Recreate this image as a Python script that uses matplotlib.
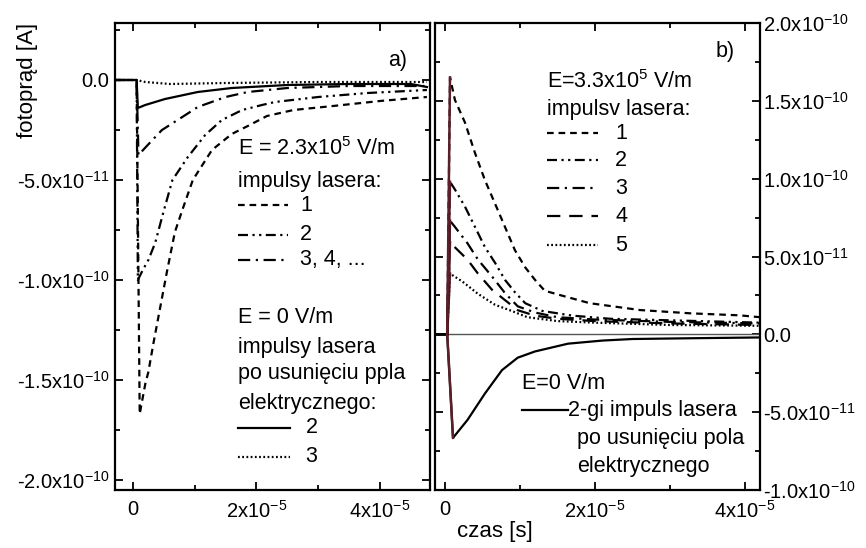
import matplotlib
matplotlib.use("Agg")
import matplotlib.pyplot as plt
from matplotlib.ticker import FixedLocator, MultipleLocator

plt.rcParams["font.family"] = ["Liberation Sans", "DejaVu Sans"]
plt.rcParams["mathtext.default"] = "regular"

# ---- panel a) : t in us, I in 1e-11 A
a1_t = [-3, 0.6, 1.1, 2.0, 2.5, 3.3, 4.4, 5.5, 6.8, 8.0, 9.7, 12.8, 16.0, 18.6, 21.7, 26, 32.4, 40, 47.6]
a1_i = [0, 0, -16.7, -15.2, -14.6, -13.2, -11.4, -9.6, -7.6, -6.5, -5.0, -3.5, -2.7, -2.3, -1.8, -1.5, -1.3, -1.05, -0.85]

a2_t = [-3, 0.6, 0.8, 1.6, 2.5, 3.6, 4.9, 6.4, 8.9, 11.7, 14.4, 17.7, 20.9, 23, 30, 38, 47.6]
a2_i = [0, 0, -10.0, -9.5, -9.0, -8.15, -6.65, -5.0, -3.85, -2.75, -2.0, -1.5, -1.25, -1.1, -0.85, -0.65, -0.5]

a3_t = [-3, 0.6, 0.9, 2.4, 4.7, 8, 10.5, 15, 18.6, 25, 35, 47.6]
a3_i = [0, 0, -3.75, -3.25, -2.5, -1.85, -1.35, -0.85, -0.6, -0.4, -0.3, -0.3]

a0s_t = [-3, 0.6, 0.8, 2, 5.2, 10.5, 16, 25, 35, 45, 47.6]
a0s_i = [0, 0, -1.4, -1.25, -0.95, -0.6, -0.4, -0.25, -0.2, -0.2, -0.35]

a0d_t = [-3, 0.6, 2, 6, 15, 30, 47.6]
a0d_i = [0, 0, -0.1, -0.2, -0.15, -0.1, -0.1]

# ---- panel b)
b1_t = [-1.4, 0.3, 0.67, 1.33, 2.67, 4, 5.33, 6.67, 8, 9.33, 10.7, 12, 13.3, 15.5, 19.3, 26, 32.7, 39.3, 42]
b1_i = [0, 0, 16.5, 15.05, 13.6, 11.65, 9.9, 8.4, 6.9, 5.4, 4.3, 3.5, 2.8, 2.5, 2.0, 1.56, 1.35, 1.22, 1.1]

b2_t = [-1.4, 0.3, 0.67, 1.33, 2.67, 4, 5.33, 6.67, 8, 9.33, 10.7, 13, 17, 22, 30, 42]
b2_i = [0, 0, 9.8, 9.3, 8.2, 6.9, 5.6, 4.6, 3.5, 2.7, 2.0, 1.5, 1.2, 1.0, 0.9, 0.75]

b3_t = [-1.4, 0.3, 0.67, 1.33, 3, 4.4, 6.3, 8, 9.7, 12, 15, 20, 30, 42]
b3_i = [0, 0, 7.3, 6.9, 5.85, 4.8, 3.7, 2.65, 1.8, 1.4, 1.1, 0.95, 0.8, 0.7]

b4_t = [-1.4, 0.3, 0.67, 3, 4.4, 6.3, 8, 9.7, 12, 15, 20, 30, 42]
b4_i = [0, 0, 5.9, 4.8, 3.9, 2.85, 2.2, 1.55, 1.2, 1.0, 0.85, 0.7, 0.6]

b5_t = [-1.4, 0.3, 0.67, 2.3, 4.4, 6.67, 8.9, 11, 15, 20, 30, 42]
b5_i = [0, 0, 3.9, 3.4, 2.6, 1.9, 1.5, 1.1, 0.85, 0.75, 0.6, 0.55]

b0_t = [-1.4, 0.3, 1.07, 3, 5.33, 7.6, 9.7, 12, 16.4, 21, 25, 33, 42]
b0_i = [0, 0, -6.65, -5.5, -3.8, -2.3, -1.5, -1.1, -0.6, -0.4, -0.3, -0.25, -0.2]

xticks = [0, 2e-5, 4e-5]
xticklabels = ["0", "2x10$^{-5}$", "4x10$^{-5}$"]
a_yticks = [0, -5e-11, -1e-10, -1.5e-10, -2e-10]
a_yticklabels = ["0.0", "-5.0x10$^{-11}$", "-1.0x10$^{-10}$", "-1.5x10$^{-10}$", "-2.0x10$^{-10}$"]
b_yticks = [2e-10, 1.5e-10, 1e-10, 5e-11, 0, -5e-11, -1e-10]
b_yticklabels = ["2.0x10$^{-10}$", "1.5x10$^{-10}$", "1.0x10$^{-10}$", "5.0x10$^{-11}$",
                 "0.0", "-5.0x10$^{-11}$", "-1.0x10$^{-10}$"]

DASH = (0, (3.0, 2.2))
DDD = (0, (4.5, 2.0, 1.0, 2.0, 1.0, 2.0))
DASHDOT = (0, (5.5, 2.5, 1.0, 2.5))
LONG = (0, (6.0, 4.0))
DOT = (0, (0.8, 1.1))
LW = 1.6
FS = 15.5
TFS = 14.5


def us(t):
    return [v * 1e-6 for v in t]


def amp(i):
    return [v * 1e-11 for v in i]


def style_axes(ax, right=False):
    ax.tick_params(which="both", direction="in", top=True, right=True, left=True, bottom=True,
                   labelsize=TFS, width=1.3)
    ax.tick_params(which="major", length=6, pad=7)
    ax.tick_params(which="minor", length=3.5)
    if right:
        ax.tick_params(axis="y", labelleft=False, labelright=True, pad=2)
    else:
        ax.tick_params(axis="y", pad=4)
    for s in ax.spines.values():
        s.set_linewidth(1.6)
    ax.xaxis.set_major_locator(FixedLocator(xticks))
    ax.set_xticklabels(xticklabels)
    ax.xaxis.set_minor_locator(MultipleLocator(1e-5))
    ax.yaxis.set_minor_locator(MultipleLocator(2.5e-11))


fig = plt.figure(figsize=(8.66, 5.48), dpi=100)
axa = fig.add_axes([115 / 866, 58 / 548, 315 / 866, 467 / 548])
axb = fig.add_axes([435 / 866, 58 / 548, 325 / 866, 467 / 548])

# panel a)
axa.plot(us(a0d_t), amp(a0d_i), color="k", lw=LW, ls=DOT)
axa.plot(us(a0s_t), amp(a0s_i), color="k", lw=LW, ls="-")
axa.plot(us(a3_t), amp(a3_i), color="k", lw=LW, ls=DASHDOT)
axa.plot(us(a2_t), amp(a2_i), color="k", lw=LW, ls=DDD)
axa.plot(us(a1_t), amp(a1_i), color="k", lw=LW, ls=DASH)
axa.set_xlim(-2.9e-6, 4.81e-5)
axa.set_ylim(-2.05e-10, 2.85e-11)
style_axes(axa)
axa.yaxis.set_major_locator(FixedLocator(a_yticks))
axa.set_yticklabels(a_yticklabels)
axa.text(0.927, 0.92, "a)", transform=axa.transAxes, ha="right", va="center", fontsize=FS)

tr = axa.transAxes
axa.text(0.39, 0.732, "E = 2.3x10$^5$ V/m", transform=tr, va="center", fontsize=FS)
axa.text(0.39, 0.66, "impulsy lasera:", transform=tr, va="center", fontsize=FS)
for y, ls, lab in [(0.61, DASH, "1"), (0.547, DDD, "2"), (0.493, DASHDOT, "3, 4, ...")]:
    axa.plot([0.39, 0.55], [y, y], transform=tr, color="k", lw=LW, ls=ls)
    axa.text(0.587, y, lab, transform=tr, va="center", fontsize=FS)
axa.text(0.39, 0.37, "E = 0 V/m", transform=tr, va="center", fontsize=FS)
axa.text(0.39, 0.306, "impulsy lasera", transform=tr, va="center", fontsize=FS)
axa.text(0.39, 0.25, "po usunięciu ppla", transform=tr, va="center", fontsize=FS)
axa.text(0.39, 0.186, "elektrycznego:", transform=tr, va="center", fontsize=FS)
for y, ls, lab in [(0.133, "-", "2"), (0.071, DOT, "3")]:
    axa.plot([0.39, 0.555], [y, y], transform=tr, color="k", lw=LW, ls=ls)
    axa.text(0.605, y, lab, transform=tr, va="center", fontsize=FS)

# panel b)
axb.axhline(0, color="#555555", lw=1.0)
for t, i, ls in [(b5_t, b5_i, DOT), (b4_t, b4_i, LONG), (b3_t, b3_i, DASHDOT),
                 (b2_t, b2_i, DDD), (b1_t, b1_i, DASH), (b0_t, b0_i, "-")]:
    axb.plot(us(t), amp(i), color="k", lw=LW, ls=ls)
    # the steep edge shows up dark red in the scan
    axb.plot(us(t[1:3]), amp(i[1:3]), color="#5a1f2a", lw=1.8)
axb.set_xlim(-1.33e-6, 4.2e-5)
axb.set_ylim(-1.0e-10, 2.0e-10)
style_axes(axb, right=True)
axb.yaxis.set_major_locator(FixedLocator(b_yticks))
axb.set_yticklabels(b_yticklabels)
axb.text(0.923, 0.94, "b)", transform=axb.transAxes, ha="right", va="center", fontsize=FS)

tr = axb.transAxes
axb.text(0.345, 0.874, "E=3.3x10$^5$ V/m", transform=tr, va="center", fontsize=FS)
axb.text(0.345, 0.814, "impulsv lasera:", transform=tr, va="center", fontsize=FS)
for y, ls, lab in [(0.764, DASH, "1"), (0.706, DDD, "2"), (0.646, DASHDOT, "3"),
                   (0.586, LONG, "4"), (0.524, DOT, "5")]:
    axb.plot([0.345, 0.5], [y, y], transform=tr, color="k", lw=LW, ls=ls)
    axb.text(0.555, y, lab, transform=tr, va="center", fontsize=FS)
axb.text(0.268, 0.229, "E=0 V/m", transform=tr, va="center", fontsize=FS)
axb.plot([0.268, 0.41], [0.171, 0.171], transform=tr, color="k", lw=LW)
axb.text(0.41, 0.171, "2-gi impuls lasera", transform=tr, va="center", fontsize=FS)
axb.text(0.437, 0.111, "po usunięciu pola", transform=tr, va="center", fontsize=FS)
axb.text(0.437, 0.051, "elektrycznego", transform=tr, va="center", fontsize=FS)

fig.text(27 / 866, 1 - 80 / 548, "fotoprąd [A]", rotation=90, ha="center", va="center", fontsize=16)
fig.text(495 / 866, 1 - 532 / 548, "czas [s]", ha="center", va="center", fontsize=16)

fig.savefig("out.png", dpi=100)
